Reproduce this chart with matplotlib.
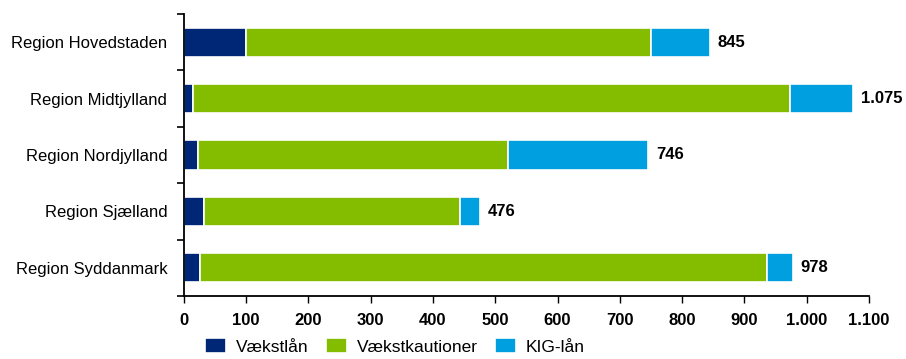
import numpy as np
import matplotlib.pyplot as plt

plt.rcParams['font.family'] = ['Liberation Sans', 'DejaVu Sans']

regions = ["Region Hovedstaden", "Region Midtjylland", "Region Nordjylland",
           "Region Sjælland", "Region Syddanmark"]
vaekstlaan = [100, 15, 23, 33, 26]
vaekstkautioner = [650, 958, 498, 411, 911]
kig_laan = [95, 102, 225, 32, 41]
totals = [845, 1075, 746, 476, 978]

series = ["Vækstlån", "Vækstkautioner", "KIG-lån"]
colors = ["#002776", "#84BD00", "#009FDF"]

fig = plt.figure(figsize=(9.06, 3.59), dpi=100)
ax = fig.add_axes([0.203, 0.1755, 0.756, 0.7855])

y = np.arange(len(regions))
left = np.zeros(len(regions))
for vals, name, col in zip([vaekstlaan, vaekstkautioner, kig_laan], series, colors):
    ax.barh(y, vals, left=left, height=0.52, color=col, edgecolor="white",
            linewidth=1.2, label=name)
    left += np.array(vals)

def fmt(v):
    return f"{v:,}".replace(",", ".")

for yi, tot in zip(y, totals):
    ax.text(tot + 12, yi, fmt(tot), va="center", ha="left",
            fontsize=12, fontweight="bold")

ax.set_xlim(0, 1100)
ax.set_ylim(len(regions) - 0.5, -0.5)
ax.set_xticks(np.arange(0, 1101, 100))
ax.set_xticklabels([fmt(v) for v in range(0, 1101, 100)],
                   fontsize=12, fontweight="bold")
ax.set_yticks(y)
ax.set_yticklabels(regions, fontsize=12)
ax.set_yticks(np.arange(-0.5, len(regions), 1), minor=True)
ax.tick_params(axis="y", which="major", length=0, pad=12)
ax.tick_params(axis="y", which="minor", length=5, width=1.2, direction="out")
ax.tick_params(axis="x", length=5, width=1, direction="out", pad=7)

for s in ["top", "right"]:
    ax.spines[s].set_visible(False)
ax.spines["left"].set_linewidth(1.3)
ax.spines["bottom"].set_linewidth(1.3)

fig.legend(loc="lower center", bbox_to_anchor=(0.436, -0.012), ncol=3,
           frameon=False, fontsize=12.5, handlelength=1.2, handleheight=1.0,
           handletextpad=0.57, columnspacing=1.0, borderpad=0)

fig.savefig("out.png", dpi=100)
